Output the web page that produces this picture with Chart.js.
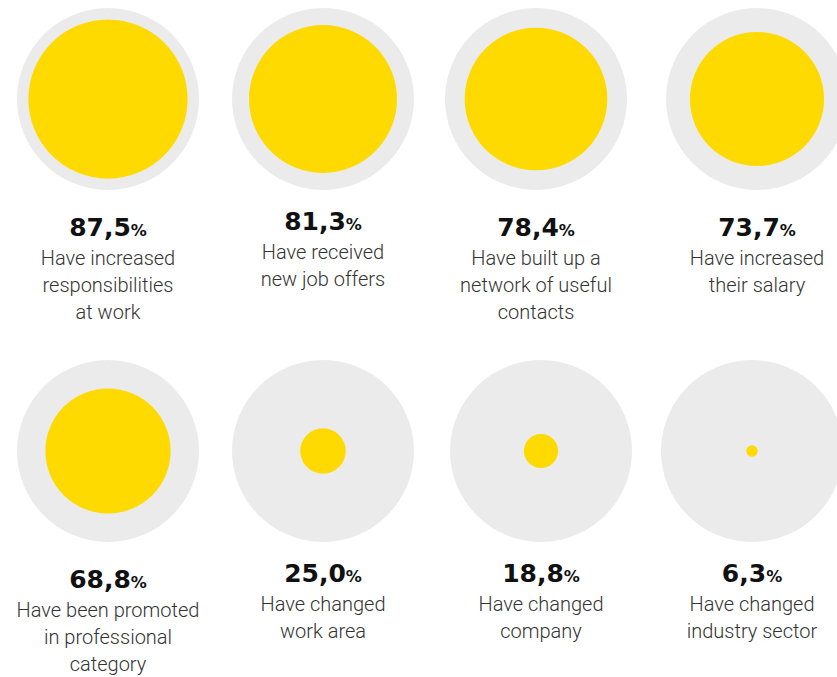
<!DOCTYPE html>
<html>
<head>
<meta charset="utf-8">
<script src="https://cdn.jsdelivr.net/npm/chart.js@4/dist/chart.umd.min.js"></script>
<style>
  html, body { margin: 0; padding: 0; background: #fff; }
  body { width: 837px; height: 677px; position: relative; overflow: hidden; }
  .cell { position: absolute; width: 182px; }
  .cell canvas { display: block; }
  .label { position: absolute; width: 240px; text-align: center; }
  .value { font-family: "DejaVu Sans", sans-serif; font-weight: bold; font-size: 25px; line-height: 29px; color: #111; }
  .value small { font-size: 16px; }
  .desc { font-family: Roboto, sans-serif; font-weight: 300; font-size: 20px; line-height: 27px; color: #333; }
</style>
</head>
<body>
<script>
// Survey results: share of respondents (%)
const categories = [
  "Have increased\nresponsibilities\nat work",
  "Have received\nnew job offers",
  "Have built up a\nnetwork of useful\ncontacts",
  "Have increased\ntheir salary",
  "Have been promoted\nin professional\ncategory",
  "Have changed\nwork area",
  "Have changed\ncompany",
  "Have changed\nindustry sector"
];
const shares = [87.5, 81.3, 78.4, 73.7, 68.8, 25.0, 18.8, 6.3];

const yellow = "#FFDA00";
const grey = "#EBEBEB";

// circle centres and the top of each text block
const layout = [
  { cx: 108, cy: 99, ty: 213 },
  { cx: 323, cy: 99, ty: 207 },
  { cx: 536, cy: 99, ty: 213 },
  { cx: 757, cy: 99, ty: 213 },
  { cx: 108, cy: 451, ty: 565 },
  { cx: 323, cy: 451, ty: 559 },
  { cx: 541, cy: 451, ty: 559 },
  { cx: 752, cy: 451, ty: 559 }
];
const size = 182;

shares.forEach((v, i) => {
  const pos = layout[i];
  const cell = document.createElement("div");
  cell.className = "cell";
  cell.style.left = (pos.cx - size / 2) + "px";
  cell.style.top = (pos.cy - size / 2) + "px";
  const canvas = document.createElement("canvas");
  canvas.width = size;
  canvas.height = size;
  cell.appendChild(canvas);
  document.body.appendChild(cell);

  // one full-circle segment; its radius follows the value on a 0-100 radial scale
  new Chart(canvas, {
    type: "polarArea",
    data: {
      labels: [categories[i].replace(/\n/g, " ")],
      datasets: [{ data: [v], backgroundColor: yellow, borderWidth: 0 }]
    },
    options: {
      responsive: false,
      animation: false,
      layout: { padding: 0 },
      plugins: { legend: { display: false } },
      scales: {
        r: {
          min: 0,
          max: 100,
          backgroundColor: grey,
          grid: { display: false, circular: true },
          angleLines: { display: false },
          ticks: { display: false },
          pointLabels: { display: false }
        }
      }
    }
  });

  const label = document.createElement("div");
  label.className = "label";
  label.style.left = (pos.cx - 120) + "px";
  label.style.top = pos.ty + "px";
  const val = document.createElement("div");
  val.className = "value";
  val.innerHTML = v.toFixed(1).replace(".", ",") + "<small>%</small>";
  const desc = document.createElement("div");
  desc.className = "desc";
  desc.innerHTML = categories[i].split("\n").join("<br>");
  label.appendChild(val);
  label.appendChild(desc);
  document.body.appendChild(label);
});
</script>
</body>
</html>
